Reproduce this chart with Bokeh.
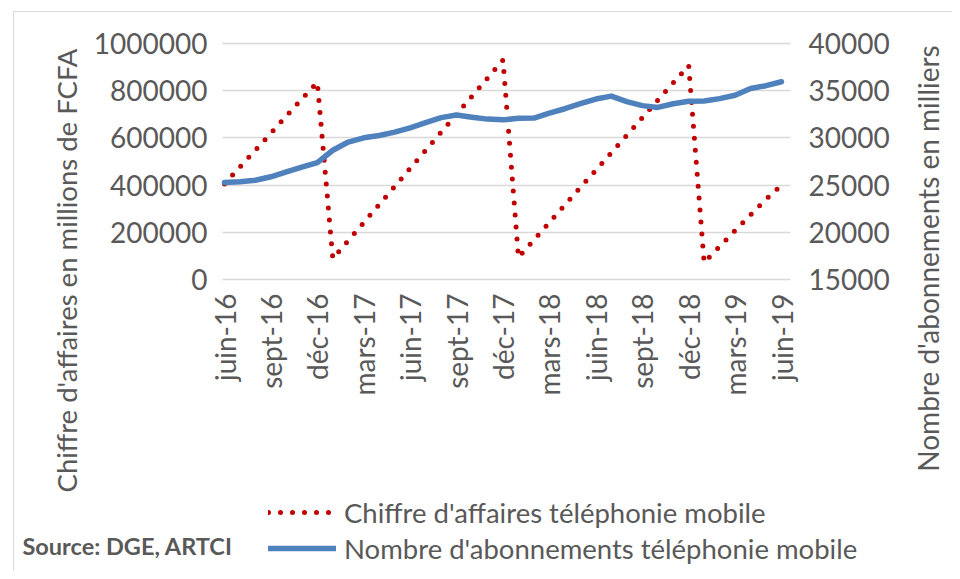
import math
from bokeh.plotting import figure
from bokeh.models import (Range1d, LinearAxis, FixedTicker, Legend, LegendItem, Label, Grid,
                          ColumnDataSource, BasicTickFormatter)
from bokeh.embed import file_html
from bokeh.resources import INLINE

# ---------------- data ----------------
months = ["juin-16", "juil-16", "août-16", "sept-16", "oct-16", "nov-16", "déc-16",
          "janv-17", "févr-17", "mars-17", "avr-17", "mai-17", "juin-17", "juil-17",
          "août-17", "sept-17", "oct-17", "nov-17", "déc-17",
          "janv-18", "févr-18", "mars-18", "avr-18", "mai-18", "juin-18", "juil-18",
          "août-18", "sept-18", "oct-18", "nov-18", "déc-18",
          "janv-19", "févr-19", "mars-19", "avr-19", "mai-19", "juin-19"]

# Chiffre d'affaires (millions FCFA, cumul annuel)
revenue = [405000, 477000, 548000, 620000, 693000, 765000, 836000,
           88000, 165000, 241000, 318000, 394000, 471000, 547000,
           624000, 700000, 777000, 853000, 930000,
           94000, 168000, 242000, 316000, 390000, 463000, 537000,
           611000, 685000, 759000, 833000, 907000,
           72000, 140000, 207000, 274000, 340000, 400000]

# Nombre d'abonnements (milliers)
subscribers = [25280, 25350, 25520, 25880, 26400, 26900, 27390,
               28690, 29560, 30010, 30260, 30610, 31070, 31620,
               32150, 32420, 32190, 31990, 31910,
               32070, 32100, 32630, 33090, 33620, 34120, 34430,
               33850, 33420, 33230, 33620, 33880,
               33900, 34160, 34520, 35230, 35530, 35950]

tick_labels = ["juin-16", "sept-16", "déc-16", "mars-17", "juin-17", "sept-17", "déc-17",
               "mars-18", "juin-18", "sept-18", "déc-18", "mars-19", "juin-19"]
left_ticks = [0, 200000, 400000, 600000, 800000, 1000000]
right_ticks = [15000, 20000, 25000, 30000, 35000, 40000]

series_names = ["Chiffre d'affaires téléphonie mobile",
                "Nombre d'abonnements téléphonie mobile"]
left_title = "Chiffre d'affaires en millions de FCFA"
right_title = "Nombre d'abonnements en milliers"
source_text = "Source: DGE, ARTCI"

# ---------------- layout (pixels on the page) ----------------
W, H = 952, 571
PLOT_L, PLOT_R, PLOT_T, PLOT_B = 222, 790, 43, 279   # plot area
FIRST_X, LAST_X = 224, 781                          # first / last month

n = len(months)
px_per_month = (LAST_X - FIRST_X) / (n - 1)

def xd(px):        # page x -> month index
    return (px - FIRST_X) / px_per_month

def yl(py):        # page y -> left axis value
    return left_ticks[0] + (PLOT_B - py) * (left_ticks[-1] - left_ticks[0]) / (PLOT_B - PLOT_T)

def yr(py):        # page y -> right axis value
    return right_ticks[0] + (PLOT_B - py) * (right_ticks[-1] - right_ticks[0]) / (PLOT_B - PLOT_T)

# ---------------- styles ----------------
FONT = "Lato"
TXT = "#595959"
RED = "#C00000"
BLUE = "#4F81BD"
GRID = "#d9d9d9"

idx = list(range(n))
src = ColumnDataSource(dict(x=idx, rev=revenue, subs=subscribers))

frame_css = (":host::after {content: ''; position: absolute; left: 13px; top: 11px; "
             "right: 0; bottom: 0; border-left: 1.5px solid #d9d9d9; "
             "border-top: 1.5px solid #d9d9d9; pointer-events: none;}")

p = figure(width=W, height=H,
           x_range=Range1d(xd(0), xd(W)), y_range=Range1d(yl(H), yl(0)),
           x_axis_location=None, y_axis_location=None,
           output_backend="svg", toolbar_location=None, min_border=0)
p.stylesheets = [frame_css]
p.outline_line_color = None
p.background_fill_color = "white"
p.border_fill_color = "white"
for g in p.grid:
    g.visible = False
p.extra_y_ranges = {"subs": Range1d(yr(H), yr(0))}

laxis = LinearAxis(fixed_location=xd(PLOT_L), ticker=FixedTicker(ticks=left_ticks),
                   formatter=BasicTickFormatter(use_scientific=False))
raxis = LinearAxis(fixed_location=xd(PLOT_R), y_range_name="subs",
                   ticker=FixedTicker(ticks=right_ticks),
                   formatter=BasicTickFormatter(use_scientific=False))
tick_pos = [months.index(t) for t in tick_labels]
xaxis = LinearAxis(fixed_location=left_ticks[0], ticker=FixedTicker(ticks=tick_pos),
                   major_label_overrides={i: months[i] for i in tick_pos},
                   major_label_orientation=math.pi / 2)

for ax in (laxis, raxis, xaxis):
    ax.axis_line_color = None
    ax.major_tick_line_color = None
    ax.minor_tick_line_color = None
    ax.major_tick_out = 0
    ax.major_tick_in = 0
    ax.major_label_text_font = FONT
    ax.major_label_text_font_size = "28px"
    ax.major_label_text_color = TXT
laxis.major_label_standoff = 15
raxis.major_label_standoff = 18
xaxis.major_label_standoff = 14

p.add_layout(laxis, "left")
p.add_layout(raxis, "right")
p.add_layout(xaxis, "below")

grid = Grid(dimension=1, ticker=FixedTicker(ticks=left_ticks),
            cross_bounds=(xd(PLOT_L), xd(PLOT_R)),
            grid_line_color=GRID, grid_line_width=1.3)
p.add_layout(grid)

r1 = p.line("x", "rev", source=src, line_color=RED, line_width=5,
            line_dash="0 12", line_cap="round")
r2 = p.line("x", "subs", source=src, y_range_name="subs", line_color=BLUE,
            line_width=5.5, line_cap="round", line_join="round")

legend = Legend(items=[LegendItem(label=series_names[0], renderers=[r1]),
                       LegendItem(label=series_names[1], renderers=[r2])],
                location=(268, H - 565), orientation="vertical",
                glyph_width=68, glyph_height=34, label_height=34, label_standoff=8,
                spacing=2, padding=0, margin=0,
                border_line_color=None, background_fill_alpha=0,
                label_text_font=FONT, label_text_font_size="27.5px", label_text_color=TXT)
p.add_layout(legend)

p.add_layout(Label(x=xd(66), y=yl(270), text=left_title, angle=math.pi / 2,
                   text_align="center", text_baseline="middle",
                   text_font=FONT, text_font_size="27.5px", text_color=TXT))
p.add_layout(Label(x=xd(927), y=yl(258), text=right_title, angle=math.pi / 2,
                   text_align="center", text_baseline="middle",
                   text_font=FONT, text_font_size="28px", text_color=TXT))
p.add_layout(Label(x=xd(22), y=yl(545), text=source_text,
                   text_align="left", text_baseline="middle", text_font=FONT,
                   text_font_style="bold", text_font_size="23.5px", text_color=TXT))

open("out.html", "w").write(file_html(p, INLINE))
